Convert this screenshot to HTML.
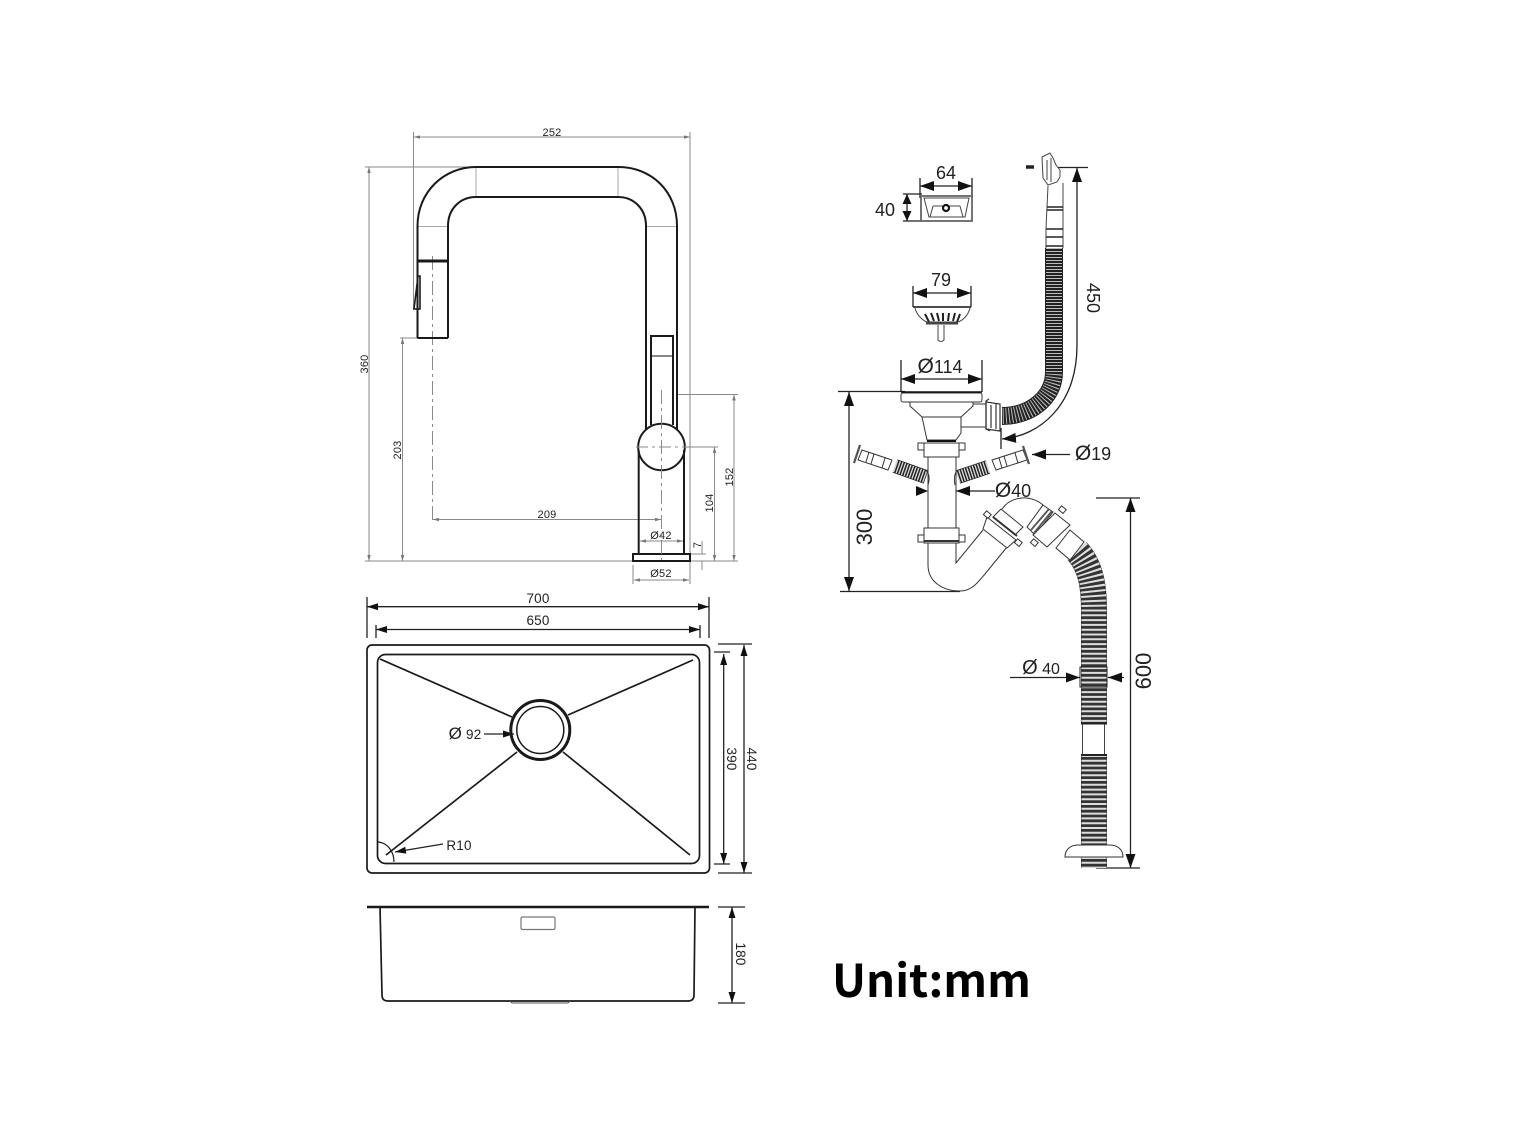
<!DOCTYPE html>
<html><head><meta charset="utf-8"><style>
html,body{margin:0;padding:0;background:#fff}
svg{display:block}
text{font-family:"Liberation Sans",sans-serif;fill:#222}
.g{stroke:#8a8a8a;stroke-width:1;fill:none}
.gt{font-size:11px;fill:#999;letter-spacing:.2px;text-anchor:middle}
.k{stroke:#1a1a1a;stroke-width:2;fill:none}
.d{stroke:#222;stroke-width:1.3;fill:none}
.p{stroke:#333;stroke-width:1;fill:#fff}
.t{font-size:18px;text-anchor:middle}
.s{font-size:13.5px;text-anchor:middle;letter-spacing:.2px}
</style></head><body>
<svg width="1513" height="1134" viewBox="0 0 1513 1134" xmlns="http://www.w3.org/2000/svg">
<defs>
<marker id="a" viewBox="0 0 10 8" refX="10" refY="4" markerWidth="11" markerHeight="7" markerUnits="userSpaceOnUse" orient="auto-start-reverse" preserveAspectRatio="none"><path d="M0 0L10 4L0 8z" fill="#111"/></marker>
<marker id="c" viewBox="0 0 10 8" refX="10" refY="4" markerWidth="14" markerHeight="10" markerUnits="userSpaceOnUse" orient="auto-start-reverse" preserveAspectRatio="none"><path d="M0 0L10 4L0 8z" fill="#111"/></marker>
<marker id="e" viewBox="0 0 10 8" refX="10" refY="4" markerWidth="10" markerHeight="9" markerUnits="userSpaceOnUse" orient="auto-start-reverse" preserveAspectRatio="none"><path d="M0 0L10 4L0 8z" fill="#111"/></marker>
<marker id="b" viewBox="0 0 10 8" refX="10" refY="4" markerWidth="6" markerHeight="3.5" markerUnits="userSpaceOnUse" orient="auto-start-reverse" preserveAspectRatio="none"><path d="M0 0L10 4L0 8z" fill="#777"/></marker>
</defs>
<rect width="1513" height="1134" fill="#fff"/>

<!-- Faucet dims -->
<g class="g">
<path d="M413.5 132V310M690 132V575M365 167H470M365 561H738M400 338H448M677 394.5H738M636 447H718M690 554H706M633 565V584M690 565V584"/>
<path d="M414 137H690" marker-start="url(#b)" marker-end="url(#b)"/>
<path d="M369 167V561" marker-start="url(#b)" marker-end="url(#b)"/>
<path d="M402.5 338V561" marker-start="url(#b)" marker-end="url(#b)"/>
<path d="M433 519.5H661" marker-start="url(#b)" marker-end="url(#b)"/>
<path d="M734 394.5V561" marker-start="url(#b)" marker-end="url(#b)"/>
<path d="M714.5 447V561" marker-start="url(#b)" marker-end="url(#b)"/>
<path d="M702 541V554M702 561V570"/>
<path d="M640 541H683" marker-start="url(#b)" marker-end="url(#b)"/>
<path d="M634 580H689" marker-start="url(#b)" marker-end="url(#b)"/>
<path d="M476 167V197M618 167V197M418 226.5H447M647 226.5H676" stroke="#aaa"/>
<path d="M652 356H672" stroke="#888" stroke-width="2"/>
<path d="M432.5 256V523" stroke-dasharray="14 4 3 4"/>
</g>
<g class="gt">
<text x="552" y="136">252</text>
<text x="547" y="518">209</text>
<text x="661" y="539">Ø42</text>
<text x="661" y="577">Ø52</text>
<text transform="translate(368,364) rotate(-90)">360</text>
<text transform="translate(401,450) rotate(-90)">203</text>
<text transform="translate(713,503) rotate(-90)">104</text>
<text transform="translate(733,477) rotate(-90)">152</text>
<text transform="translate(701,545) rotate(-90)">7</text>
</g>
<!-- Faucet -->
<g class="k">
<path d="M417.5 338V226C417.5 192 444 167 476 167H618C652 167 677 192 677 226V430M448 338V226C448 209 460 197 476 197H618C634 197 646 209 646 226V430M417.5 338H448"/>
<path d="M417.5 261H448" stroke-width="3"/>
<path d="M418 276L420 276L420 309L414 309Z" stroke-width="1.6"/>
<path d="M651 425V336H673V425"/>
<circle cx="661.5" cy="447" r="23.3" fill="#fff"/>
<path d="M638.7 450V554M684 450V554"/>
<rect x="633" y="554" width="57" height="7"/>
</g>
<path class="g" d="M661.5 390V560" stroke-dasharray="14 4 3 4"/>
<path class="g" d="M636 447H690" stroke-dasharray="12 4 3 4"/>

<!-- Sink top -->
<g class="d">
<path d="M367 597V638M709 597V638M376 625V638M700 625V638M718 644H752M718 873H752M714 652H730M714 864H730M718 907H745M718 1003H745"/>
<path d="M367 606.7H709" marker-start="url(#a)" marker-end="url(#a)"/>
<path d="M376 629.5H700" marker-start="url(#a)" marker-end="url(#a)"/>
<path d="M744 645V873" marker-start="url(#a)" marker-end="url(#a)"/>
<path d="M723.7 654V864" marker-start="url(#a)" marker-end="url(#a)"/>
<path d="M732 907V1003" marker-start="url(#a)" marker-end="url(#a)"/>
<path d="M484 734H514" marker-end="url(#a)"/>
<path d="M443 844L395 852" marker-end="url(#a)"/>
</g>
<g class="k" style="stroke-width:1.7">
<rect x="367" y="645" width="342.5" height="228" rx="5"/>
<rect x="377.5" y="654.5" width="322" height="209" rx="8"/>
<path d="M380 659L512 717M693 660L568 715M517 752L386 855M563 752L690 855"/>
<path d="M378 842C388 843 394 852 394 862" style="stroke-width:1.2"/>
</g>
<circle cx="540.3" cy="730" r="29.5" fill="none" stroke="#1a1a1a" stroke-width="3"/>
<circle cx="540.3" cy="730" r="23.5" fill="none" stroke="#1a1a1a" stroke-width="1.5"/>
<!-- Sink side -->
<path d="M367 907H709" stroke="#1a1a1a" stroke-width="2.5"/>
<path d="M380 907L382 995Q382 1001 388 1001H688Q694 1001 694 995L695 907" fill="none" stroke="#1a1a1a" stroke-width="1.7"/>
<rect x="521" y="917" width="34" height="12.5" rx="1.5" fill="none" stroke="#777" stroke-width="1.2"/>
<path d="M510 1001L512 1003H568L570 1001" fill="none" stroke="#555"/>
<g class="s">
<text x="538" y="603">700</text>
<text x="538" y="625">650</text>
<text x="459" y="850">R10</text>
<text x="465" y="739"><tspan font-size="17">Ø</tspan> 92</text>
<text transform="translate(727,759) rotate(90)">390</text>
<text transform="translate(747,759) rotate(90)">440</text>
<text transform="translate(736,954) rotate(90)">180</text>
</g>

<!-- Unit -->
<text x="832" y="997" font-size="45" font-weight="700" textLength="199" lengthAdjust="spacingAndGlyphs" style="font-family:'Noto Sans CJK JP','Liberation Sans',sans-serif;fill:#000">Unit:mm</text>

<!-- Dims plumbing -->
<g class="d">
<path d="M920 178V198M972 178V198M903 194H922M903 221H922M913 286V307M971 286V307M901 360V392M982 360V392M838 391.5H905M840 591.5H960M1056 167.5H1088M1096 498H1140M1096 868H1140M1001 428V449"/>
<path d="M920 186H972" marker-start="url(#c)" marker-end="url(#c)"/>
<path d="M907 194V221" marker-start="url(#e)" marker-end="url(#e)"/>
<path d="M913 293H971" marker-start="url(#c)" marker-end="url(#c)"/>
<path d="M901 379H982" marker-start="url(#c)" marker-end="url(#c)"/>
<path d="M849 392V591" marker-start="url(#c)" marker-end="url(#c)"/>
<path d="M1077 168V345C1077 405 1040 436 1002 439" marker-start="url(#c)" marker-end="url(#c)"/>
<path d="M1070 454.5H1032" marker-end="url(#c)"/>
<path d="M995 491H956" marker-end="url(#c)"/>
<path d="M916 486L928 491L916 496Z" fill="#111" stroke="none"/>
<path d="M1130.5 498V868" marker-start="url(#c)" marker-end="url(#c)"/>
<path d="M1010 677.5H1080" marker-end="url(#c)"/>
<path d="M1124 677.5H1108" marker-end="url(#c)"/>
</g>
<g fill="none" stroke="#444" stroke-width="1">
<rect x="921" y="196" width="51" height="25" stroke-width="1.8" stroke="#666"/>
<path d="M924 198H969L965 217H929ZM933 206H960M933 206L930 217M960 206L963 217"/>
<circle cx="946" cy="208" r="3" stroke="#111" stroke-width="2.2" fill="#fff"/>
<path d="M913 307H971" stroke="#111" stroke-width="1.6"/>
<path d="M915 308C917 316 924 322 930 323H954C962 322 968 316 970 308"/>
<path d="M925 314L929 322M931 313L934 321M937 313L939 321M943 313L943 321M949 313L948 321M955 313L953 321M960 314L957 322" stroke="#222" stroke-width="2"/>
<path d="M926 323H958" stroke="#444" stroke-width="3"/>
<path d="M938 325V340Q941 343 944 340V325"/>
<!-- screw + head -->
<path d="M1026 167H1034" stroke="#222" stroke-width="3.5"/>
<path d="M1042 157L1050 153L1053 158L1056 165L1060 170V177L1057 182L1048 185L1043 178Z" fill="#fff"/>
<path d="M1047 160V180M1051 158V182"/>
<path d="M1048 186L1046 228V248M1063 183V248"/>
<path d="M1047 207H1063M1047 210H1063M1046 229H1063M1046 237H1063M1046 246H1063" stroke-width="1.4" stroke="#222"/>
</g>
<!-- overflow hose -->
<path d="M1054 248V372C1054 398 1030 416 1002 416" fill="none" stroke="#222" stroke-width="18"/>
<path d="M1054 248V372C1054 398 1030 416 1002 416" fill="none" stroke="#bbb" stroke-width="16" stroke-dasharray="1 2"/>
<g fill="#fff" stroke="#333" stroke-width="1.2">
<path d="M986 402L1000 404V431L986 429Z"/>
<path d="M989 399L986 401V429L990 431" fill="none"/>
<path d="M991 405V428M996 404V429" fill="none"/>
</g>
<!-- strainer body -->
<g class="p">
<path d="M973 404H986M961 427H986" fill="none"/>
<path d="M910 402H973V406L961 417V433L956 440H927L922 417L910 406Z"/>
<path d="M922 417H961"/>
<rect x="901" y="393" width="81" height="9" rx="2"/>
<path d="M901 392H982" stroke="#111" stroke-width="1.5"/>
<path d="M927 441H956" stroke="#111" stroke-width="2"/>
<path d="M928 457V528M956 457V528" fill="none"/>
<rect x="924" y="443" width="35" height="14"/>
<rect x="918" y="443" width="6" height="7"/><rect x="959" y="443" width="6" height="7"/>
<rect x="924" y="528" width="35" height="15"/>
<path d="M924 541H959" stroke-width="2"/>
<rect x="918" y="535" width="6" height="7"/><rect x="959" y="535" width="6" height="7"/>
<!-- side stubs -->
<path d="M862 450L892 460L888 470L858 460Z"/>
<path d="M869 452L866 462M874 454L871 464M885 458L882 468" fill="none"/>
<path d="M992 460L1023 450L1027 460L996 470Z"/>
<path d="M999 458L1002 468M1004 456L1007 466M1015 453L1018 463" fill="none"/>
<path d="M860 445L854 463M1023 446L1029 464" stroke-width="2.2" fill="none" stroke="#555"/>
</g>
<path d="M895 466L926 477" stroke="#222" stroke-width="14" fill="none"/>
<path d="M895 466L926 477" stroke="#ddd" stroke-width="12.5" stroke-dasharray="1.3 1.5" fill="none"/>
<path d="M988 467L958 477" stroke="#222" stroke-width="14" fill="none"/>
<path d="M988 467L958 477" stroke="#ddd" stroke-width="12.5" stroke-dasharray="1.3 1.5" fill="none"/>
<path d="M926 470Q931 476 928 485M957 470Q953 476 955 485" fill="none" stroke="#333"/>
<!-- trap -->
<g fill="none" stroke="#333" stroke-width="1">
<path d="M928 543V565C928 582 943 591 960 591C972 591 978 582 985 574L1007 547"/>
<path d="M956 543V563L983 530"/>
<path d="M1002 509C1012 495 1032 495 1043 505"/>
</g>
<!-- drain hose -->
<path d="M1077 551C1092 567 1094 590 1094 610V723M1094 755V845M1094 857V868" fill="none" stroke="#333" stroke-width="26"/>
<path d="M1077 551C1092 567 1094 590 1094 610V723M1094 755V845M1094 857V868" fill="none" stroke="#ddd" stroke-width="25" stroke-dasharray="2 2.8"/>
<g class="p">
<path d="M1001 509L1023 527L1015 535L993 517Z"/>
<path d="M987 517L1016 540L1007 548L983 529Z"/>
<path d="M993 517L1017 536" stroke-width="2"/>
<rect x="984" y="512" width="6" height="5" transform="rotate(40 987 515)"/>
<rect x="1015" y="540" width="6" height="5" transform="rotate(40 1018 543)"/>
<path d="M1043 505L1053 512L1035 535L1027 527Z"/>
<path d="M1055 513L1070 525L1047 547L1033 535Z"/>
<path d="M1052 511L1034 533M1049 509L1031 530" stroke-width="1.8" stroke="#555"/>
<rect x="1059" y="507" width="6" height="5" transform="rotate(40 1062 510)"/>
<rect x="1031" y="540" width="6" height="5" transform="rotate(40 1034 543)"/>
<path d="M1070 530L1084 542L1070 560L1056 548Z"/>
</g>
<rect x="1082.5" y="724" width="22" height="31" fill="#fff" stroke="#444"/>
<path d="M1081 723.5H1107M1081 755H1107" stroke="#222" stroke-width="2"/>
<path d="M1065 857C1065 850 1070 845 1078 845H1110C1118 845 1123 850 1123 857Z" fill="#fff" stroke="#333"/>
<rect x="1080" y="667" width="27" height="20" fill="none" stroke="#222" stroke-width="1"/>

<g class="t">
<text x="946" y="179">64</text>
<text x="885" y="216">40</text>
<text x="941" y="286">79</text>
<text x="940" y="373"><tspan font-size="21">Ø</tspan>114</text>
<text x="1093" y="460"><tspan font-size="21">Ø</tspan>19</text>
<text x="1013" y="497"><tspan font-size="21">Ø</tspan>40</text>
<text x="1041" y="674" font-size="16"><tspan font-size="20">Ø</tspan> 40</text>
<text transform="translate(1087,298) rotate(90)">450</text>
<text transform="translate(872,527) rotate(-90)" font-size="22">300</text>
<text transform="translate(1151,671) rotate(-90)" font-size="22">600</text>
</g>
</svg>
</body></html>
